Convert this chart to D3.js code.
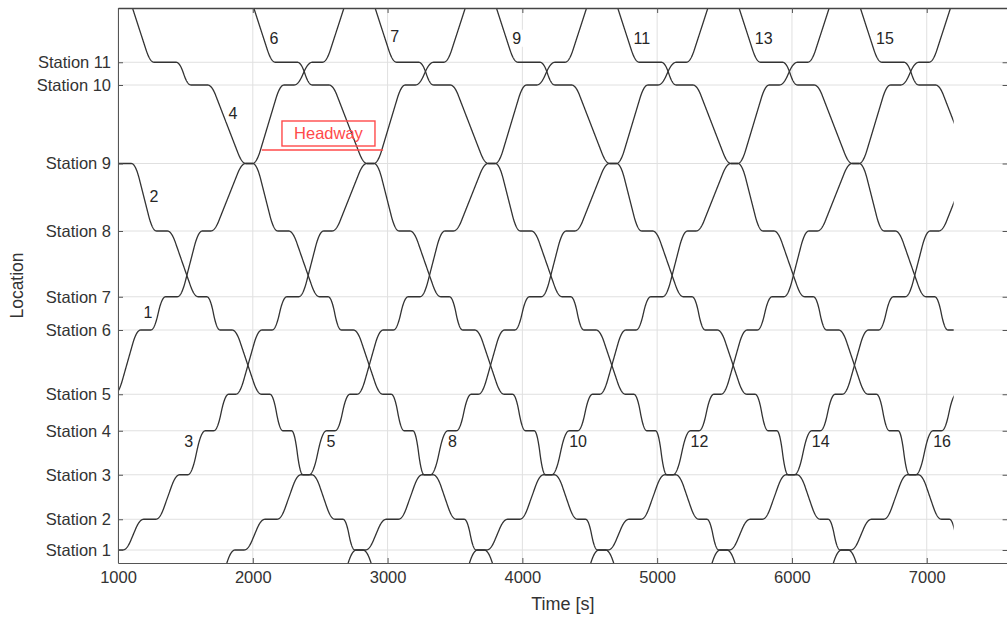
<!DOCTYPE html>
<html>
<head>
<meta charset="utf-8">
<script src="https://cdn.jsdelivr.net/npm/d3@7"></script>
<style>
  html, body { margin: 0; padding: 0; background: #fff; }
  svg { display: block; font-family: "Liberation Sans", Arial, Helvetica, sans-serif; }
</style>
</head>
<body>
<svg id="chart" width="1007" height="617"></svg>
<script>
// ---- Line geometry -------------------------------------------------------
const stationNames = ["Station 1", "Station 2", "Station 3", "Station 4", "Station 5", "Station 6",
                      "Station 7", "Station 8", "Station 9", "Station 10", "Station 11"];
const stationKm = [0, 1.23, 3.01, 4.77, 6.23, 8.80, 10.13, 12.76, 15.46, 18.60, 19.51];
// turnback sidings beyond both ends of the plotted section
const sidingSouthKm = -1.2;
const sidingNorthKm = 23.0;

// ---- Running times -------------------------------------------------------
// Northbound trip, seconds relative to departure from Station 1.
// index 0 = south siding, 1..11 = Station 1..11, 12 = north siding
const upArr = [null, -67, 156, 423, 613, 786, 1033, 1218, 1491, 1812, 2097, 2307, 2651];
const upDep = [-197,   0, 245, 482, 675, 838, 1108, 1305, 1553, 1862, 2171, 2381, null];

// Southbound trip, seconds relative to departure from Station 11.
// index 0 = north siding, 1..11 = Station 11..1, 12 = south siding
const downArr = [null, -163, 111, 519, 755, 1065, 1226, 1535, 1693, 1841, 2079, 2227, 2416];
const downDep = [-433,    0, 234, 568, 835, 1128, 1315, 1596, 1757, 1906, 2138, 2286, null];

// ---- Timetable -----------------------------------------------------------
const upTrainNos = [1, 3, 5, 8, 10, 12, 14, 16];
const upDepartures = [135, 1035, 1935, 2835, 3735, 4635, 5535, 6435];     // leave Station 1
const downTrainNos = [2, 4, 6, 7, 9, 11, 13, 15];
const downDepartures = [531, 1431, 2331, 3231, 4131, 5031, 5931, 6831];   // leave Station 11
// train 2 is already standing at Station 9 when the simulation starts
const startStop = { 2: 3 };

const simStart = 1000, simEnd = 7200;
const timeDomain = [1000, 7600];
const timeTicks = [1000, 2000, 3000, 4000, 5000, 6000, 7000];

// where each train number is written along its own path (time, s)
const labelNos   = [1, 2, 3, 4, 5, 6, 7, 8, 9, 10, 11, 12, 13, 14, 15, 16];
const labelTimes = [1300, 1190, 1603, 1775, 2503, 2080, 2975, 3403, 3880, 4303, 4780, 5203, 5680, 6103, 6580, 7003];
const labelsOnLeft = [1, 3];

// headway marker
const headwayKm = 16.0;
const headwayStart = 2067;
const headwaySeconds = 900;

// ---- Layout --------------------------------------------------------------
const svg = d3.select("#chart");
const plot = { left: 118, right: 1007.6, top: 8, bottom: 563 };

const x = d3.scaleLinear().domain(timeDomain).range([plot.left, plot.right]);
const y = d3.scaleLinear().domain([-0.52, 21.68]).range([plot.bottom, plot.top]);

// ---- Motion between two stops: accelerate, cruise, brake ----------------
const accelTime = 60;
function runFraction(tau, T) {
  const ta = Math.min(accelTime, T / 2);
  const v = 1 / (T - ta);
  if (tau <= ta) return 0.5 * v * tau * tau / ta;
  if (tau >= T - ta) { const r = T - tau; return 1 - 0.5 * v * r * r / ta; }
  return 0.5 * v * ta + v * (tau - ta);
}

function buildStops(dir, t0) {
  const kms = dir === "up"
    ? [sidingSouthKm, ...stationKm, sidingNorthKm]
    : [sidingNorthKm, ...stationKm.slice().reverse(), sidingSouthKm];
  const arr = dir === "up" ? upArr : downArr;
  const dep = dir === "up" ? upDep : downDep;
  return kms.map((km, i) => ({
    km,
    arr: arr[i] == null ? null : t0 + arr[i],
    dep: dep[i] == null ? null : t0 + dep[i]
  }));
}

function trainPath(dir, t0, first) {
  let stops = buildStops(dir, t0);
  if (first != null) {
    stops = stops.slice(first);
    stops[0].arr = simStart;
  }
  const pts = [];
  stops.forEach((s, i) => {
    if (s.arr != null) pts.push([s.arr, s.km]);
    if (s.dep != null) {
      pts.push([s.dep, s.km]);
      const nx = stops[i + 1];
      if (nx) {
        const T = nx.arr - s.dep;
        for (let tau = 2; tau < T; tau += 2) {
          pts.push([s.dep + tau, s.km + (nx.km - s.km) * runFraction(tau, T)]);
        }
      }
    }
  });
  return pts;
}

const trains = [];
upTrainNos.forEach((no, i) => trains.push({ no, pts: trainPath("up", upDepartures[i], startStop[no]) }));
downTrainNos.forEach((no, i) => trains.push({ no, pts: trainPath("down", downDepartures[i], startStop[no]) }));

function posAt(pts, t) {
  for (let i = 1; i < pts.length; i++) {
    if (pts[i][0] >= t) {
      const a = pts[i - 1], b = pts[i];
      const f = b[0] === a[0] ? 0 : (t - a[0]) / (b[0] - a[0]);
      return [t, a[1] + (b[1] - a[1]) * f];
    }
  }
  return pts[pts.length - 1];
}

// ---- Clip to the simulated interval -------------------------------------
svg.append("defs").append("clipPath").attr("id", "simclip")
  .append("rect")
  .attr("x", x(simStart)).attr("y", plot.top)
  .attr("width", x(simEnd) - x(simStart)).attr("height", plot.bottom - plot.top);

// ---- Grid ---------------------------------------------------------------
const grid = svg.append("g").attr("stroke", "#e0e0e0").attr("stroke-width", 1);
timeTicks.forEach(t => grid.append("line")
  .attr("x1", x(t)).attr("x2", x(t)).attr("y1", plot.top).attr("y2", plot.bottom));
stationKm.forEach(k => grid.append("line")
  .attr("x1", plot.left).attr("x2", plot.right).attr("y1", y(k)).attr("y2", y(k)));

// ---- Train paths ----------------------------------------------------------
const line = d3.line().x(d => x(d[0])).y(d => y(d[1]));
svg.append("g").attr("clip-path", "url(#simclip)")
  .selectAll("path").data(trains).join("path")
  .attr("d", d => line(d.pts))
  .attr("fill", "none")
  .attr("stroke", "#333")
  .attr("stroke-width", 1.3)
  .attr("stroke-linejoin", "round");

// ---- Train numbers --------------------------------------------------------
const lab = svg.append("g").attr("font-size", 16).attr("fill", "#262626");
labelNos.forEach((no, i) => {
  const tr = trains.find(d => d.no === no);
  const p = posAt(tr.pts, labelTimes[i]);
  const left = labelsOnLeft.includes(no);
  const px = x(p[0]) + (left ? -6 : 6), py = y(p[1]);
  const g = lab.append("g");
  const txt = g.append("text")
    .attr("x", px).attr("y", py)
    .attr("dy", "0.35em")
    .attr("text-anchor", left ? "end" : "start")
    .text(no);
  const bb = txt.node().getBBox();
  g.insert("rect", "text")
    .attr("x", bb.x - 2).attr("y", bb.y)
    .attr("width", bb.width + 4).attr("height", bb.height)
    .attr("fill", "#fff");
});

// ---- Headway marker -----------------------------------------------------------
const hwY = y(headwayKm);
const hw = svg.append("g").attr("stroke", "#ff4a4a").attr("fill", "none");
hw.append("line")
  .attr("x1", x(headwayStart)).attr("x2", x(headwayStart + headwaySeconds))
  .attr("y1", hwY).attr("y2", hwY)
  .attr("stroke-width", 1.6);
const hwCx = x(headwayStart + headwaySeconds / 2) + 6;
hw.append("rect")
  .attr("x", hwCx - 46.5).attr("y", hwY - 29)
  .attr("width", 93).attr("height", 25)
  .attr("stroke-width", 1.4);
svg.append("text")
  .attr("x", hwCx).attr("y", hwY - 16.5)
  .attr("dy", "0.35em")
  .attr("text-anchor", "middle")
  .attr("font-size", 16.5)
  .attr("fill", "#ff4a4a")
  .text("Headway");

// ---- Axes ---------------------------------------------------------------
const axisColor = "#555";
function styleAxis(g, labels) {
  g.selectAll(".domain").attr("stroke", axisColor);
  g.selectAll(".tick line").attr("stroke", axisColor);
  g.selectAll(".tick text").attr("fill", "#333").attr("font-size", 16.5)
    .attr("font-family", "Liberation Sans, Arial, sans-serif");
  if (!labels) g.selectAll(".tick text").remove();
}

svg.append("g").attr("transform", `translate(0,${plot.bottom})`)
  .call(d3.axisBottom(x).tickValues(timeTicks).tickFormat(d3.format("d"))
        .tickSize(-5).tickSizeOuter(0).tickPadding(8))
  .call(g => styleAxis(g, true));

svg.append("g").attr("transform", `translate(0,${plot.top})`)
  .call(d3.axisTop(x).tickValues(timeTicks).tickSize(-5).tickSizeOuter(0))
  .call(g => styleAxis(g, false))
  .select(".domain").attr("stroke", "#444").attr("stroke-width", 1.6);

svg.append("g").attr("transform", `translate(${plot.left},0)`)
  .call(d3.axisLeft(y).tickValues(stationKm).tickFormat((d, i) => stationNames[i])
        .tickSize(-5).tickSizeOuter(0).tickPadding(7))
  .call(g => styleAxis(g, true));

svg.append("g").attr("transform", `translate(${plot.right},0)`)
  .call(d3.axisRight(y).tickValues(stationKm).tickSize(-5).tickSizeOuter(0))
  .call(g => styleAxis(g, false));

svg.append("text")
  .attr("x", (plot.left + plot.right) / 2).attr("y", 604)
  .attr("dy", "0.35em").attr("text-anchor", "middle")
  .attr("font-size", 18).attr("fill", "#333")
  .text("Time [s]");

svg.append("text")
  .attr("transform", `translate(17,${(plot.top + plot.bottom) / 2}) rotate(-90)`)
  .attr("dy", "0.35em").attr("text-anchor", "middle")
  .attr("font-size", 17.5).attr("fill", "#333")
  .text("Location");
</script>
</body>
</html>
